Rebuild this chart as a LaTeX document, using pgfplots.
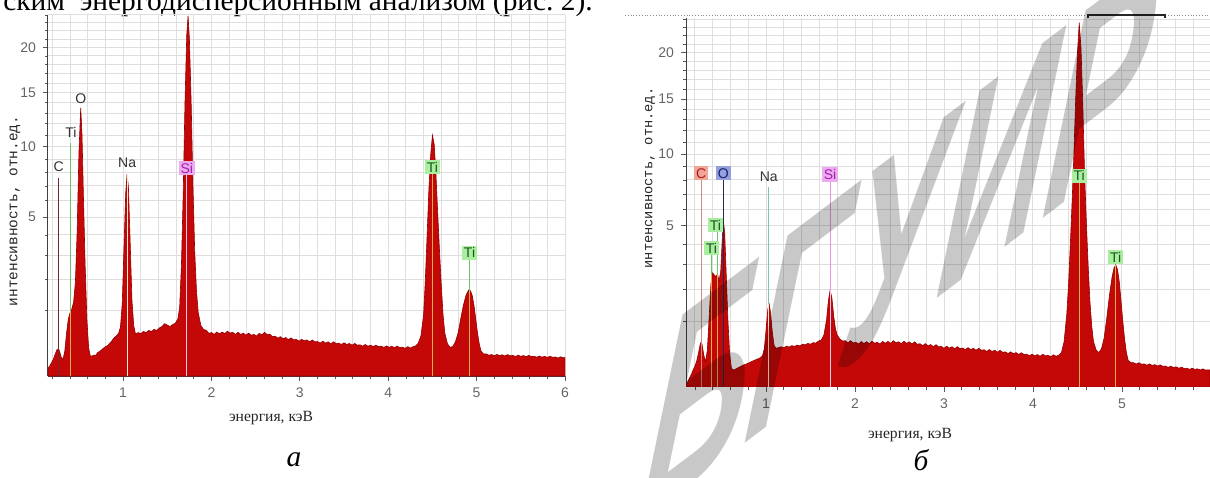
\documentclass[border=0pt]{standalone}
\usepackage{fontspec}
\setmainfont{Liberation Serif}
\setsansfont{Liberation Sans}
\setmonofont{Liberation Mono}
\usepackage{pgfplots}
\pgfplotsset{compat=1.18}
\usepackage{pgfplotstable}

\definecolor{specred}{RGB}{196,8,8}
\definecolor{specedge}{RGB}{150,0,0}
\definecolor{gridc}{RGB}{222,222,222}
\definecolor{tiline}{RGB}{232,172,80}
\definecolor{tigreen}{RGB}{110,195,110}
\definecolor{tibox}{RGB}{168,240,160}
\definecolor{titext}{RGB}{30,80,30}
\definecolor{sibox}{RGB}{238,170,240}
\definecolor{sitext}{RGB}{160,30,170}
\definecolor{siline}{RGB}{225,150,225}
\definecolor{siinner}{RGB}{242,200,235}
\definecolor{cbox}{RGB}{240,165,150}
\definecolor{ctext}{RGB}{170,30,30}
\definecolor{cline}{RGB}{205,140,125}
\definecolor{cdark}{RGB}{110,40,40}
\definecolor{obox}{RGB}{150,160,220}
\definecolor{otext}{RGB}{20,30,110}
\definecolor{oline}{RGB}{40,40,80}
\definecolor{naline}{RGB}{130,195,185}
\definecolor{nainner}{RGB}{250,232,205}
\definecolor{labtext}{RGB}{50,50,50}
\definecolor{tickc}{RGB}{100,100,100}
\definecolor{wmark}{RGB}{200,200,200}

\pgfplotstableread{
x y
0.15 0.060
0.17 0.075
0.19 0.100
0.21 0.130
0.23 0.180
0.25 0.235
0.27 0.250
0.28 0.220
0.30 0.150
0.32 0.130
0.34 0.220
0.36 0.500
0.38 0.800
0.40 0.950
0.42 1.050
0.44 1.250
0.46 1.900
0.48 4.200
0.50 9.500
0.52 13.50
0.535 11.00
0.55 6.500
0.57 2.600
0.59 0.800
0.61 0.260
0.63 0.160
0.65 0.165
0.67 0.175
0.69 0.170
0.71 0.200
0.73 0.215
0.75 0.230
0.77 0.250
0.79 0.270
0.81 0.285
0.83 0.300
0.85 0.330
0.87 0.360
0.89 0.400
0.91 0.430
0.93 0.460
0.95 0.500
0.97 0.620
0.99 1.200
1.01 3.400
1.03 6.600
1.045 7.850
1.06 6.900
1.08 3.600
1.10 1.300
1.12 0.650
1.14 0.480
1.17 0.510
1.20 0.490
1.23 0.530
1.26 0.510
1.29 0.550
1.32 0.530
1.35 0.570
1.38 0.550
1.41 0.600
1.44 0.630
1.47 0.690
1.50 0.660
1.53 0.630
1.56 0.670
1.59 0.700
1.62 0.800
1.64 1.100
1.66 2.600
1.68 6.500
1.70 14.00
1.72 21.50
1.735 23.90
1.75 21.00
1.77 14.00
1.79 7.000
1.81 3.200
1.83 1.600
1.85 0.950
1.88 0.650
1.91 0.570
1.94 0.555
1.97 0.495
2.00 0.510
2.03 0.475
2.06 0.520
2.09 0.485
2.12 0.520
2.15 0.490
2.18 0.535
2.21 0.500
2.24 0.515
2.27 0.475
2.30 0.515
2.33 0.475
2.36 0.500
2.39 0.460
2.42 0.500
2.45 0.460
2.48 0.475
2.51 0.445
2.54 0.495
2.57 0.465
2.60 0.515
2.63 0.470
2.66 0.480
2.69 0.435
2.72 0.445
2.75 0.410
2.78 0.435
2.81 0.400
2.84 0.420
2.87 0.385
2.90 0.415
2.93 0.380
2.96 0.390
2.99 0.360
3.02 0.390
3.05 0.365
3.08 0.380
3.11 0.350
3.14 0.380
3.17 0.350
3.20 0.355
3.23 0.330
3.26 0.360
3.29 0.330
3.32 0.350
3.35 0.320
3.38 0.350
3.41 0.325
3.44 0.330
3.47 0.310
3.50 0.335
3.53 0.310
3.56 0.325
3.59 0.300
3.62 0.325
3.65 0.300
3.68 0.305
3.71 0.285
3.74 0.310
3.77 0.285
3.80 0.300
3.83 0.280
3.86 0.300
3.89 0.280
3.92 0.287
3.95 0.268
3.98 0.290
4.01 0.270
4.04 0.285
4.07 0.264
4.10 0.287
4.13 0.267
4.16 0.273
4.19 0.256
4.22 0.279
4.25 0.260
4.28 0.278
4.31 0.290
4.34 0.330
4.37 0.450
4.40 0.900
4.42 2.000
4.44 4.000
4.46 6.800
4.48 9.300
4.50 11.00
4.52 10.20
4.54 7.800
4.56 5.200
4.58 3.200
4.60 1.800
4.62 0.900
4.64 0.500
4.67 0.320
4.70 0.270
4.73 0.280
4.76 0.350
4.79 0.500
4.82 0.800
4.85 1.150
4.88 1.450
4.91 1.630
4.93 1.600
4.95 1.450
4.97 1.150
4.99 0.800
5.01 0.500
5.03 0.320
5.05 0.220
5.08 0.185
5.11 0.187
5.14 0.172
5.17 0.180
5.20 0.166
5.23 0.181
5.26 0.168
5.29 0.177
5.32 0.164
5.35 0.179
5.38 0.166
5.41 0.170
5.44 0.159
5.47 0.173
5.50 0.160
5.53 0.169
5.56 0.156
5.59 0.170
5.62 0.158
5.65 0.162
5.68 0.151
5.71 0.164
5.74 0.152
5.77 0.161
5.80 0.149
5.83 0.162
5.86 0.150
5.89 0.154
5.92 0.143
5.95 0.156
5.98 0.145
6.00 0.148
}\leftdata

\pgfplotstableread{
x y
0.10 0.030
0.12 0.050
0.14 0.075
0.16 0.100
0.18 0.140
0.20 0.180
0.22 0.240
0.24 0.350
0.26 0.500
0.27 0.540
0.28 0.500
0.30 0.320
0.32 0.230
0.34 0.400
0.36 1.100
0.38 2.200
0.40 2.650
0.42 2.550
0.44 2.500
0.455 2.620
0.47 2.300
0.49 2.700
0.51 4.500
0.52 5.300
0.535 4.600
0.55 2.800
0.57 1.100
0.59 0.350
0.61 0.160
0.63 0.140
0.66 0.150
0.69 0.165
0.72 0.180
0.75 0.195
0.78 0.205
0.81 0.220
0.84 0.235
0.87 0.250
0.90 0.265
0.93 0.280
0.96 0.310
0.98 0.420
1.00 0.800
1.02 1.350
1.035 1.500
1.05 1.250
1.07 0.750
1.09 0.480
1.11 0.430
1.14 0.440
1.17 0.455
1.20 0.440
1.23 0.465
1.26 0.450
1.29 0.475
1.32 0.460
1.35 0.485
1.38 0.470
1.41 0.500
1.44 0.490
1.47 0.515
1.50 0.500
1.53 0.530
1.56 0.520
1.59 0.560
1.62 0.580
1.65 0.680
1.68 1.050
1.70 1.600
1.72 1.980
1.74 1.700
1.76 1.150
1.78 0.820
1.80 0.680
1.83 0.600
1.86 0.560
1.89 0.567
1.92 0.523
1.95 0.567
1.98 0.524
2.01 0.535
2.04 0.504
2.07 0.551
2.10 0.514
2.13 0.546
2.16 0.509
2.19 0.557
2.22 0.519
2.25 0.535
2.28 0.504
2.31 0.553
2.34 0.518
2.37 0.552
2.40 0.516
2.43 0.567
2.46 0.529
2.49 0.545
2.52 0.511
2.55 0.556
2.58 0.516
2.61 0.544
2.64 0.503
2.67 0.544
2.70 0.500
2.73 0.509
2.76 0.473
2.79 0.512
2.82 0.471
2.85 0.494
2.88 0.455
2.91 0.491
2.94 0.453
2.97 0.461
3.00 0.428
3.03 0.465
3.06 0.431
3.09 0.454
3.12 0.420
3.15 0.457
3.18 0.423
3.21 0.433
3.24 0.405
3.27 0.440
3.30 0.407
3.33 0.428
3.36 0.396
3.39 0.428
3.42 0.396
3.45 0.404
3.48 0.376
3.51 0.408
3.54 0.376
3.57 0.396
3.60 0.365
3.63 0.394
3.66 0.363
3.69 0.370
3.72 0.344
3.75 0.371
3.78 0.342
3.81 0.359
3.84 0.330
3.87 0.357
3.90 0.329
3.93 0.335
3.96 0.311
3.99 0.335
4.02 0.310
4.05 0.329
4.08 0.305
4.11 0.333
4.14 0.310
4.17 0.318
4.20 0.298
4.23 0.326
4.26 0.304
4.29 0.320
4.32 0.360
4.35 0.550
4.38 1.200
4.40 2.200
4.42 4.000
4.44 6.500
4.46 10.00
4.48 15.00
4.50 20.00
4.52 23.60
4.54 20.50
4.56 14.50
4.58 8.500
4.60 5.200
4.62 3.000
4.64 1.600
4.66 0.900
4.68 0.550
4.71 0.400
4.74 0.360
4.77 0.420
4.80 0.620
4.83 1.100
4.86 1.800
4.89 2.500
4.91 2.850
4.93 3.000
4.95 2.800
4.97 2.300
4.99 1.600
5.01 1.000
5.03 0.600
5.05 0.360
5.07 0.250
5.10 0.220
5.13 0.221
5.16 0.204
5.19 0.219
5.22 0.202
5.25 0.205
5.28 0.190
5.31 0.205
5.34 0.188
5.37 0.197
5.40 0.180
5.43 0.194
5.46 0.178
5.49 0.181
5.52 0.167
5.55 0.180
5.58 0.165
5.61 0.172
5.64 0.157
5.67 0.169
5.70 0.155
5.73 0.158
5.76 0.146
5.79 0.158
5.82 0.146
5.85 0.152
5.88 0.140
5.91 0.151
5.94 0.139
5.97 0.142
5.99 0.140
}\rightdata

\makeatletter
\def\sqrttrafo#1{%
  \edef\trafo@arg{#1}%
  \ifx\trafo@arg\@empty
    \def\pgfmathresult{0}%
  \else
    \pgfmathparse{sqrt(max(\trafo@arg,0))}%
  \fi}
\def\sqrinvtrafo#1{%
  \edef\trafo@arg{#1}%
  \ifx\trafo@arg\@empty
    \def\pgfmathresult{0}%
  \else
    \pgfmathparse{(\trafo@arg)*(\trafo@arg)}%
  \fi}
\makeatother

\pgfplotsset{
  eds/.style={
    scale only axis,
    anchor=south west,
    axis x line*=bottom,
    axis y line*=left,
    axis line style={draw=black!75, line width=0.5pt},
    y coord trafo/.code={\sqrttrafo{##1}},
    y coord inv trafo/.code={\sqrinvtrafo{##1}},
    ytick={5,10,15,20},
    yticklabels={5,10,15,20},
    minor ytick={1,2,3,4,6,7,8,9,11,12,13,14,16,17,18,19,21,22,23,24},
    minor xtick={0.2,0.4,0.6,0.8,1.2,1.4,1.6,1.8,2.2,2.4,2.6,2.8,3.2,3.4,3.6,3.8,4.2,4.4,4.6,4.8,5.2,5.4,5.6,5.8},
    grid=both,
    major grid style={draw=gridc, line width=0.5pt},
    minor grid style={draw=gridc, line width=0.5pt},
    tick align=outside,
    major tick length=2.5pt,
    minor tick length=1.5pt,
    tick style={draw=black!65, line width=0.4pt},
    ticklabel style={font=\sffamily\fontsize{7}{8}\selectfont, text=tickc},
    /pgf/number format/assume math mode=true,
    clip=true,
  },
}
\tikzset{
  spec/.style={draw=specedge, line width=0.3pt, fill=specred},
  lab/.style={font=\sffamily\fontsize{7}{8}\selectfont, inner sep=1pt, text=labtext},
  tilab/.style={lab, fill=tibox, text=titext},
}

\begin{document}
\begin{tikzpicture}
\useasboundingbox (0,0) rectangle (605pt,238.5pt);

% body text line from the scanned page (cut at the top)
\node[anchor=base west, inner sep=0, font=\fontsize{14.7}{16}\selectfont] at (1.5pt,233.25pt) {ским\ \ энергодисперсионным анализом (рис.~2).};

% ---------------- panel a ----------------
\begin{axis}[eds, at={(24pt,50.5pt)}, width=258.5pt, height=180.5pt,
  xmin=0.15, xmax=6, ymin=0.02, ymax=24, xtick={1,2,3,4,5,6}]
\addplot[spec] table[x=x,y=y] {\leftdata} \closedcycle;
% marker lines
\draw[cdark, line width=0.5pt] (axis cs:0.27,0.02) -- (axis cs:0.27,7.6);
\draw[tiline, line width=0.5pt] (axis cs:0.41,0.02) -- (axis cs:0.41,1.0);
\draw[tigreen, line width=0.5pt] (axis cs:0.41,1.0) -- (axis cs:0.41,10.3);
\draw[nainner, line width=0.5pt] (axis cs:1.045,0.02) -- (axis cs:1.045,7.85);
\draw[siinner, line width=0.5pt] (axis cs:1.72,0.02) -- (axis cs:1.72,8.0);
\draw[tiline, line width=0.5pt] (axis cs:4.50,0.02) -- (axis cs:4.50,8.0);
\draw[tiline, line width=0.5pt] (axis cs:4.92,0.02) -- (axis cs:4.92,1.6);
\draw[tigreen, line width=0.5pt] (axis cs:4.92,1.6) -- (axis cs:4.92,2.9);
% element labels
\node[lab] at (axis cs:0.27,8.38) {C};
\node[lab] at (axis cs:0.41,11.26) {Ti};
\node[lab] at (axis cs:0.52,14.46) {O};
\node[lab] at (axis cs:1.045,8.69) {Na};
\node[lab, fill=sibox, text=sitext] at (axis cs:1.72,8.3) {Si};
\node[tilab] at (axis cs:4.50,8.38) {Ti};
\node[tilab] at (axis cs:4.92,3.11) {Ti};
\end{axis}

% ---------------- panel b ----------------
\begin{axis}[eds, at={(343pt,45pt)}, width=262pt, height=184.5pt,
  xmin=0.10, xmax=5.99, ymin=0.024, ymax=24.2, xtick={1,2,3,4,5}]
\addplot[spec] table[x=x,y=y] {\rightdata} \closedcycle;
% marker lines
\draw[cline, line width=0.5pt] (axis cs:0.27,0.02) -- (axis cs:0.27,8.0);
\draw[tiline, line width=0.5pt] (axis cs:0.39,0.02) -- (axis cs:0.39,2.6);
\draw[tigreen, line width=0.5pt] (axis cs:0.39,2.6) -- (axis cs:0.39,3.5);
\draw[tiline, line width=0.5pt] (axis cs:0.45,0.02) -- (axis cs:0.45,2.6);
\draw[tigreen, line width=0.5pt] (axis cs:0.45,2.6) -- (axis cs:0.45,4.7);
\draw[oline, line width=0.5pt] (axis cs:0.52,0.02) -- (axis cs:0.52,8.0);
\draw[nainner, line width=0.5pt] (axis cs:1.03,0.02) -- (axis cs:1.03,1.5);
\draw[naline, line width=0.5pt] (axis cs:1.03,1.5) -- (axis cs:1.03,7.5);
\draw[siinner, line width=0.5pt] (axis cs:1.72,0.02) -- (axis cs:1.72,1.98);
\draw[siline, line width=0.5pt] (axis cs:1.72,1.98) -- (axis cs:1.72,7.9);
\draw[tiline, line width=0.5pt] (axis cs:4.52,0.02) -- (axis cs:4.52,7.8);
\draw[tiline, line width=0.5pt] (axis cs:4.93,0.02) -- (axis cs:4.93,3.0);
% element labels
\node[lab, fill=cbox, text=ctext] at (axis cs:0.27,8.5) {C};
\node[lab, fill=obox, text=otext] at (axis cs:0.52,8.5) {O};
\node[lab] at (axis cs:1.03,8.2) {Na};
\node[lab, fill=sibox, text=sitext] at (axis cs:1.72,8.4) {Si};
\node[tilab] at (axis cs:0.385,3.8) {Ti};
\node[tilab] at (axis cs:0.43,5.05) {Ti};
\node[tilab] at (axis cs:4.52,8.3) {Ti};
\node[tilab] at (axis cs:4.93,3.36) {Ti};
\end{axis}

% axis titles
\node[rotate=90, font=\ttfamily\fontsize{7.2}{8}\selectfont, text=black!85] at (7.5pt,133pt) {интенсивность, отн.ед.};
\node[rotate=90, font=\ttfamily\fontsize{6.85}{8}\selectfont, text=black!85] at (325pt,149.5pt) {интенсивность, отн.ед.};
\node[font=\fontsize{7.8}{9}\selectfont, text=black!85] at (135.5pt,29.5pt) {энергия, кэВ};
\node[font=\fontsize{7.8}{9}\selectfont, text=black!85] at (455pt,21pt) {энергия, кэВ};

% panel letters
\node[font=\itshape\fontsize{14.7}{16}\selectfont] at (147pt,8.5pt) {а};
\node[font=\itshape\fontsize{14.7}{16}\selectfont] at (460.5pt,8.5pt) {б};

% header decorations of panel b
\draw[black!45, densely dotted, line width=0.4pt] (312.5pt,231pt) -- (605pt,231pt);
\draw[black!85, line width=0.6pt] (544pt,229.5pt) -- (544pt,231pt) -- (582.5pt,231pt) -- (582.5pt,229.5pt);

% watermark of the scanned page (upright, slanted letters stepping up a diagonal)
\node[cm={0.53,0.40,0.12,1,(0,0)}, inner sep=0, font=\sffamily\bfseries\itshape\fontsize{140}{140}\selectfont, text=wmark, blend mode=multiply] at (450pt,118.5pt) {БГУИР};
\end{tikzpicture}
\end{document}
